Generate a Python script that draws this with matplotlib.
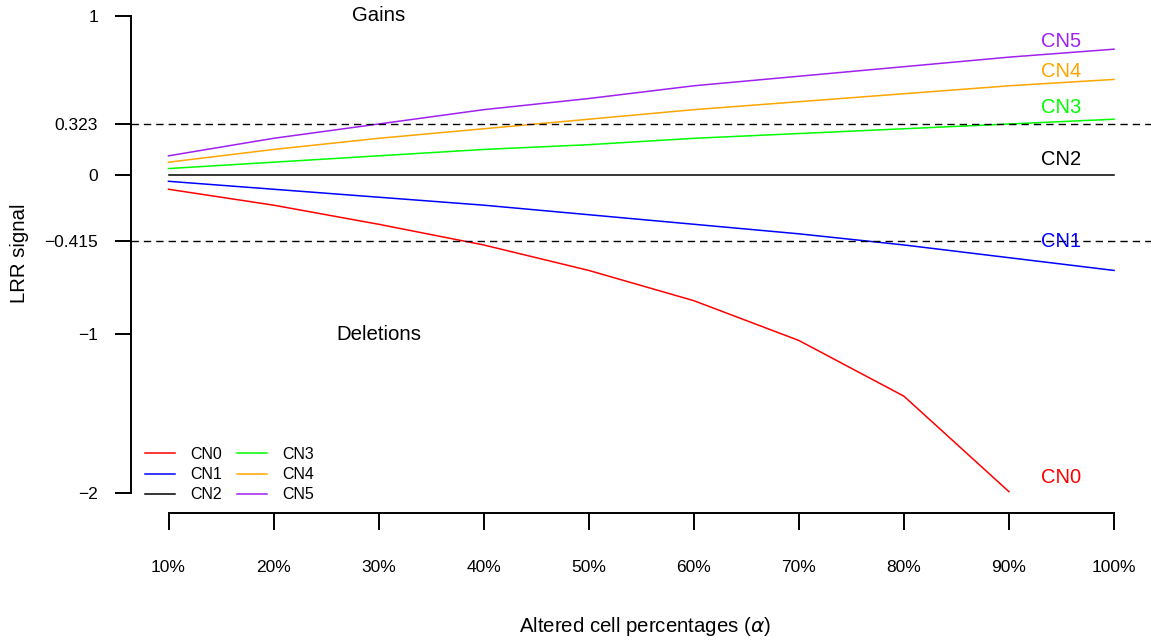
import matplotlib
matplotlib.use("Agg")
import matplotlib.pyplot as plt

plt.rcParams["font.family"] = ["Liberation Sans", "DejaVu Sans"]

# altered cell fraction (alpha)
alpha = [0.1, 0.2, 0.3, 0.4, 0.5, 0.6, 0.7, 0.8, 0.9, 1.0]
x_labels = ["10%", "20%", "30%", "40%", "50%", "60%", "70%", "80%", "90%", "100%"]

# LRR signal, one list per copy number
cn0 = [-0.09, -0.19, -0.31, -0.44, -0.60, -0.79, -1.04, -1.39, -1.99]
cn1 = [-0.04, -0.09, -0.14, -0.19, -0.25, -0.31, -0.37, -0.44, -0.52, -0.60]
cn2 = [0.0, 0.0, 0.0, 0.0, 0.0, 0.0, 0.0, 0.0, 0.0, 0.0]
cn3 = [0.04, 0.08, 0.12, 0.16, 0.19, 0.23, 0.26, 0.29, 0.32, 0.35]
cn4 = [0.08, 0.16, 0.23, 0.29, 0.35, 0.41, 0.46, 0.51, 0.56, 0.60]
cn5 = [0.12, 0.23, 0.32, 0.41, 0.48, 0.56, 0.62, 0.68, 0.74, 0.79]

series = [cn0, cn1, cn2, cn3, cn4, cn5]
names = ["CN0", "CN1", "CN2", "CN3", "CN4", "CN5"]
colors = ["#FF0000", "#0000FF", "#000000", "#00FF00", "#FFA500", "#A020F0"]

# end-of-line label positions (y)
label_y = [-1.90, -0.42, 0.10, 0.425, 0.648, 0.837]

thresholds = [0.323, -0.415]
y_ticks = [1, 0.323, 0, -0.415, -1, -2]
y_tick_labels = ["1", "0.323", "0", "\u22120.415", "\u22121", "\u22122"]

W, H = 1151, 641
fig = plt.figure(figsize=(W / 100, H / 100), dpi=100)

left_px, right_px, top_px, bottom_px = 130.7, 1151, 0, 513
ax = fig.add_axes([left_px / W, (H - bottom_px) / H,
                   (right_px - left_px) / W, (bottom_px - top_px) / H])
ax.set_xlim(0.064, 1.0352)
ax.set_ylim(-2.124, 1.099)

for vals, name, col in zip(series, names, colors):
    ax.plot(alpha[:len(vals)], vals, color=col, lw=1.1, label=name)

for t in thresholds:
    ax.axhline(t, color="black", lw=1.0, dashes=(5.3, 3.6))

for name, col, yy in zip(names, colors, label_y):
    ax.text(0.95, yy, name, color=col, fontsize=14.5, ha="center", va="center")

ax.text(0.3, 1.0, "Gains", fontsize=14.7, ha="center", va="center")
ax.text(0.3, -1.0, "Deletions", fontsize=14.7, ha="center", va="center")

for s in ["top", "right"]:
    ax.spines[s].set_visible(False)
ax.spines["left"].set_bounds(-2, 1)
ax.spines["bottom"].set_bounds(0.1, 1.0)
for s in ["left", "bottom"]:
    ax.spines[s].set_linewidth(1.4)

ax.set_yticks(y_ticks)
ax.set_yticklabels(y_tick_labels)
ax.set_xticks(alpha)
ax.set_xticklabels(x_labels)
ax.tick_params(axis="y", length=11.5, width=1.4, pad=12, labelsize=12.5)
ax.tick_params(axis="x", length=12.5, width=1.4, pad=21, labelsize=12.5)

# axis titles placed where R put them
fig.text(20 / W, 1 - 253 / H, "LRR signal", rotation=90, fontsize=14.7,
         ha="center", va="center")
fig.text(645 / W, 1 - 627 / H, r"Altered cell percentages ($\alpha$)",
         fontsize=14.7, ha="center", va="center")

leg = ax.legend(ncol=2, frameon=False, fontsize=11.5, handlelength=1.9,
                handletextpad=0.92, columnspacing=0.95, labelspacing=0.32,
                borderpad=0, borderaxespad=0, loc="upper left",
                bbox_to_anchor=(145 / W, (H - 447) / H),
                bbox_transform=fig.transFigure)

fig.savefig("out.png", dpi=100)
